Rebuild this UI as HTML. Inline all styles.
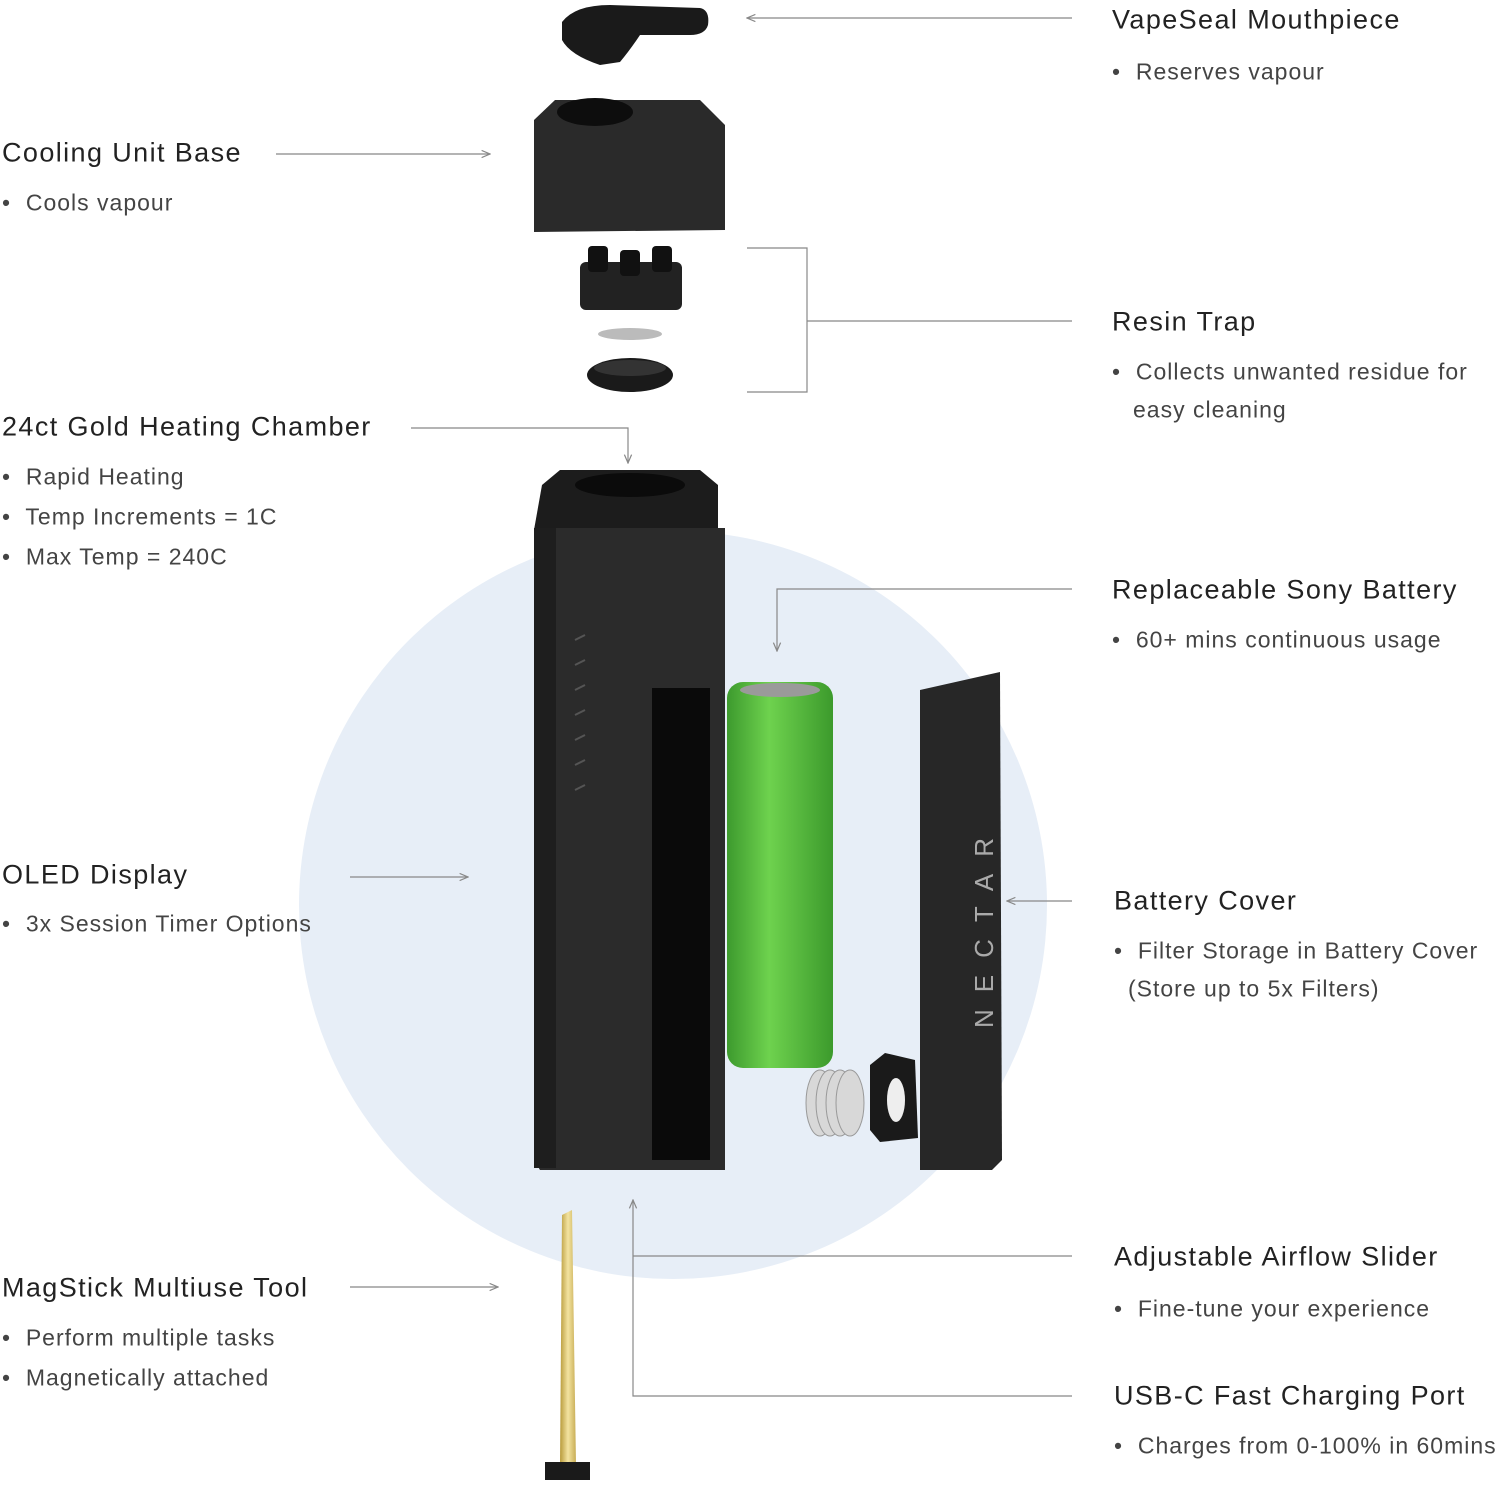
<!DOCTYPE html>
<html><head><meta charset="utf-8"><style>
body{margin:0;width:1500px;height:1487px;background:#fff;position:relative;overflow:hidden;font-family:"Liberation Sans",sans-serif}
svg{position:absolute;left:0;top:0}
.h{position:absolute;font-size:27px;color:#222;white-space:nowrap;line-height:1;transform:translateY(-50%);letter-spacing:1.4px}
.b{position:absolute;font-size:23px;color:#444;white-space:nowrap;line-height:1;transform:translateY(-50%);letter-spacing:1px}
</style></head><body>
<svg width="1500" height="1487" viewBox="0 0 1500 1487">
<defs><marker id="a" markerWidth="8" markerHeight="8" refX="7" refY="4" orient="auto"><path d="M0,1 L7,4 L0,7" fill="none" stroke="#888" stroke-width="1"/></marker>
<linearGradient id="g" x1="0" x2="1"><stop offset="0" stop-color="#3d9a2e"/><stop offset=".4" stop-color="#6ed24e"/><stop offset="1" stop-color="#3c9a2c"/></linearGradient>
<linearGradient id="au" x1="0" x2="1"><stop offset="0" stop-color="#b89a3a"/><stop offset=".5" stop-color="#f3e3a0"/><stop offset="1" stop-color="#c8ad55"/></linearGradient></defs>
<circle cx="673" cy="905" r="374" fill="#e7eef7"/>
<g stroke="#888" stroke-width="1.2" fill="none">
<path d="M1072,18 H747" marker-end="url(#a)"/>
<path d="M276,154 H490" marker-end="url(#a)"/>
<path d="M747,248 H807 V392 H747 M807,321 H1072"/>
<path d="M411,428 H628 V463" marker-end="url(#a)"/>
<path d="M1072,589 H777 V651" marker-end="url(#a)"/>
<path d="M350,877 H468" marker-end="url(#a)"/>
<path d="M1072,901 H1007" marker-end="url(#a)"/>
<path d="M1072,1256 H633 M1072,1396 H633 V1200" marker-end="url(#a)"/>
<path d="M350,1287 H498" marker-end="url(#a)"/>
</g>
<path d="M562,22 Q575,5 610,5 L700,8 Q710,10 708,25 Q705,35 690,35 L640,35 Q630,50 620,62 L600,65 Q570,55 562,40 Z" fill="#1a1a1a"/>
<path d="M534,120 L555,100 L700,100 L725,125 L725,230 L534,232 Z" fill="#2a2a2a"/>
<ellipse cx="595" cy="112" rx="38" ry="14" fill="#0d0d0d"/>
<rect x="580" y="262" width="102" height="48" rx="6" fill="#222"/>
<rect x="588" y="246" width="20" height="26" rx="4" fill="#111"/><rect x="620" y="250" width="20" height="26" rx="4" fill="#111"/><rect x="652" y="246" width="20" height="26" rx="4" fill="#111"/>
<ellipse cx="630" cy="334" rx="32" ry="6" fill="#bbb"/>
<ellipse cx="630" cy="375" rx="43" ry="17" fill="#1a1a1a"/><ellipse cx="630" cy="368" rx="36" ry="8" fill="#333"/>
<path d="M542,485 L560,470 L700,470 L718,485 L718,530 L534,530 Z" fill="#1c1c1c"/>
<ellipse cx="630" cy="485" rx="55" ry="12" fill="#0b0b0b"/>
<path d="M534,528 L725,528 L725,1170 L540,1170 L534,1160 Z" fill="#2b2b2b"/>
<rect x="652" y="688" width="58" height="472" fill="#0a0a0a"/>
<rect x="534" y="528" width="22" height="640" fill="#1e1e1e"/>
<g stroke="#555" stroke-width="2"><path d="M575,640 l10,-5 M575,665 l10,-5 M575,690 l10,-5 M575,715 l10,-5 M575,740 l10,-5 M575,765 l10,-5 M575,790 l10,-5"/></g>
<rect x="727" y="682" width="106" height="386" rx="16" fill="url(#g)"/>
<ellipse cx="780" cy="690" rx="40" ry="7" fill="#9a9a9a"/>
<path d="M920,690 L1000,672 L1002,1160 L992,1170 L920,1170 Z" fill="#272727"/>
<text x="0" y="0" transform="translate(993,1028) rotate(-90)" fill="#aaa" font-size="26" letter-spacing="17" font-family="Liberation Sans">NECTAR</text>
<g fill="#d8d8d8" stroke="#999"><ellipse cx="820" cy="1103" rx="14" ry="33"/><ellipse cx="830" cy="1103" rx="14" ry="33"/><ellipse cx="840" cy="1103" rx="14" ry="33"/><ellipse cx="850" cy="1103" rx="14" ry="33"/></g>
<path d="M870,1065 L885,1053 L915,1060 L918,1138 L880,1142 L870,1130 Z" fill="#1a1a1a"/>
<ellipse cx="896" cy="1100" rx="9" ry="22" fill="#eee"/>
<path d="M562,1215 L572,1210 L576,1465 L560,1465 Z" fill="url(#au)"/>
<rect x="545" y="1462" width="45" height="18" fill="#1a1a1a"/>
</svg>
<div class="h" style="left:1112px;top:20px">VapeSeal Mouthpiece</div>
<div class="b" style="left:1112px;top:72px">•&nbsp; Reserves vapour</div>
<div class="h" style="left:2px;top:153px">Cooling Unit Base</div>
<div class="b" style="left:2px;top:203px">•&nbsp; Cools vapour</div>
<div class="h" style="left:1112px;top:322px">Resin Trap</div>
<div class="b" style="left:1112px;top:372px">•&nbsp; Collects unwanted residue for</div>
<div class="b" style="left:1133px;top:410px">easy cleaning</div>
<div class="h" style="left:2px;top:427px">24ct Gold Heating Chamber</div>
<div class="b" style="left:2px;top:477px">•&nbsp; Rapid Heating</div>
<div class="b" style="left:2px;top:517px">•&nbsp; Temp Increments = 1C</div>
<div class="b" style="left:2px;top:557px">•&nbsp; Max Temp = 240C</div>
<div class="h" style="left:1112px;top:590px">Replaceable Sony Battery</div>
<div class="b" style="left:1112px;top:640px">•&nbsp; 60+ mins continuous usage</div>
<div class="h" style="left:2px;top:875px">OLED Display</div>
<div class="b" style="left:2px;top:924px">•&nbsp; 3x Session Timer Options</div>
<div class="h" style="left:1114px;top:901px">Battery Cover</div>
<div class="b" style="left:1114px;top:951px">•&nbsp; Filter Storage in Battery Cover</div>
<div class="b" style="left:1128px;top:989px">(Store up to 5x Filters)</div>
<div class="h" style="left:1114px;top:1257px">Adjustable Airflow Slider</div>
<div class="b" style="left:1114px;top:1309px">•&nbsp; Fine-tune your experience</div>
<div class="h" style="left:2px;top:1288px">MagStick Multiuse Tool</div>
<div class="b" style="left:2px;top:1338px">•&nbsp; Perform multiple tasks</div>
<div class="b" style="left:2px;top:1378px">•&nbsp; Magnetically attached</div>
<div class="h" style="left:1114px;top:1396px">USB-C Fast Charging Port</div>
<div class="b" style="left:1114px;top:1446px">•&nbsp; Charges from 0-100% in 60mins</div>
</body></html>
